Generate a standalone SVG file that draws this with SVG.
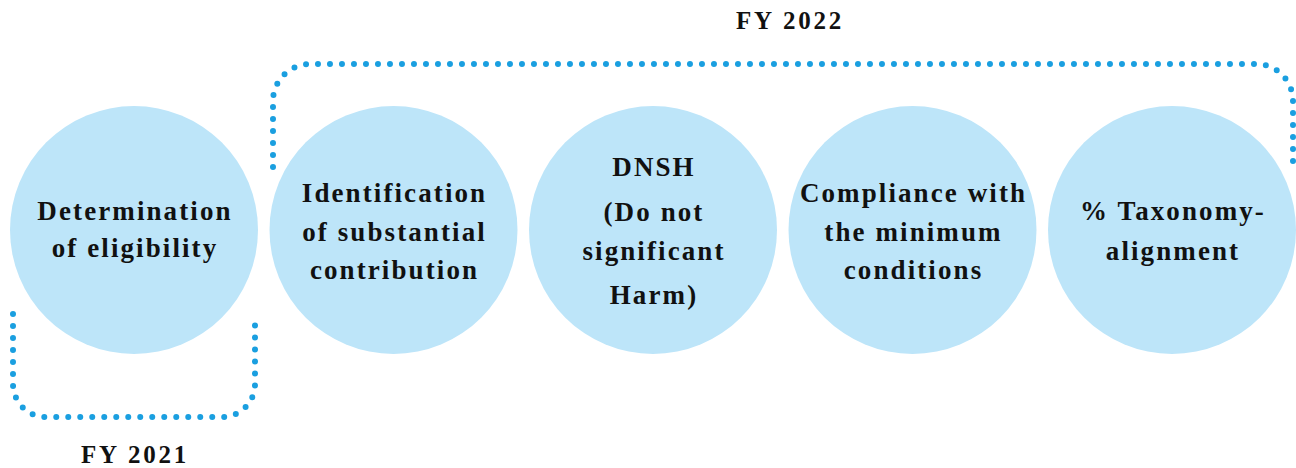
<svg xmlns="http://www.w3.org/2000/svg" width="1296" height="468" viewBox="0 0 1296 468">
<style>
.c{fill:#bde5f9}
.t{font-family:"Liberation Serif","DejaVu Serif",serif;font-weight:bold;font-size:27px;letter-spacing:2.1px;fill:#111;text-anchor:middle}
.fy{font-family:"Liberation Serif","DejaVu Serif",serif;font-weight:bold;font-size:25px;letter-spacing:2.8px;fill:#111;text-anchor:middle}
.d{fill:none;stroke:#1a9fe0;stroke-width:6;stroke-linecap:round;stroke-dasharray:0 12}
</style>
<rect width="1296" height="468" fill="#fff"/>
<g id="connectors">
<path class="d" d="M13 314 V384 A33 33 0 0 0 46 417 H222 A33 33 0 0 0 255 384 V314"/>
<path class="d" d="M273 167 V101 A37 37 0 0 1 310 64 H1256 A37 37 0 0 1 1293 101 V167"/>
</g>
<g id="n1"><circle class="c" cx="134" cy="230" r="124"/>
<text class="t"><tspan x="135" y="220">Determination</tspan><tspan x="135" y="257">of eligibility</tspan></text></g>
<g id="n2"><circle class="c" cx="393.5" cy="230" r="124"/>
<text class="t"><tspan x="394.5" y="202">Identification</tspan><tspan x="394.5" y="241">of substantial</tspan><tspan x="394.5" y="279">contribution</tspan></text></g>
<g id="n3"><circle class="c" cx="653" cy="230" r="124"/>
<text class="t"><tspan x="654" y="176">DNSH</tspan><tspan x="654" y="221">(Do not</tspan><tspan x="654" y="260">significant</tspan><tspan x="654" y="304">Harm)</tspan></text></g>
<g id="n4"><circle class="c" cx="912.5" cy="230" r="124"/>
<text class="t"><tspan x="913.5" y="202">Compliance with</tspan><tspan x="913.5" y="241">the minimum</tspan><tspan x="913.5" y="279">conditions</tspan></text></g>
<g id="n5"><circle class="c" cx="1172" cy="230" r="124"/>
<text class="t"><tspan x="1173" y="220">% Taxonomy-</tspan><tspan x="1173" y="260">alignment</tspan></text></g>
<g id="labels">
<text class="fy" x="790" y="29">FY 2022</text>
<text class="fy" x="135" y="463">FY 2021</text>
</g>
</svg>
